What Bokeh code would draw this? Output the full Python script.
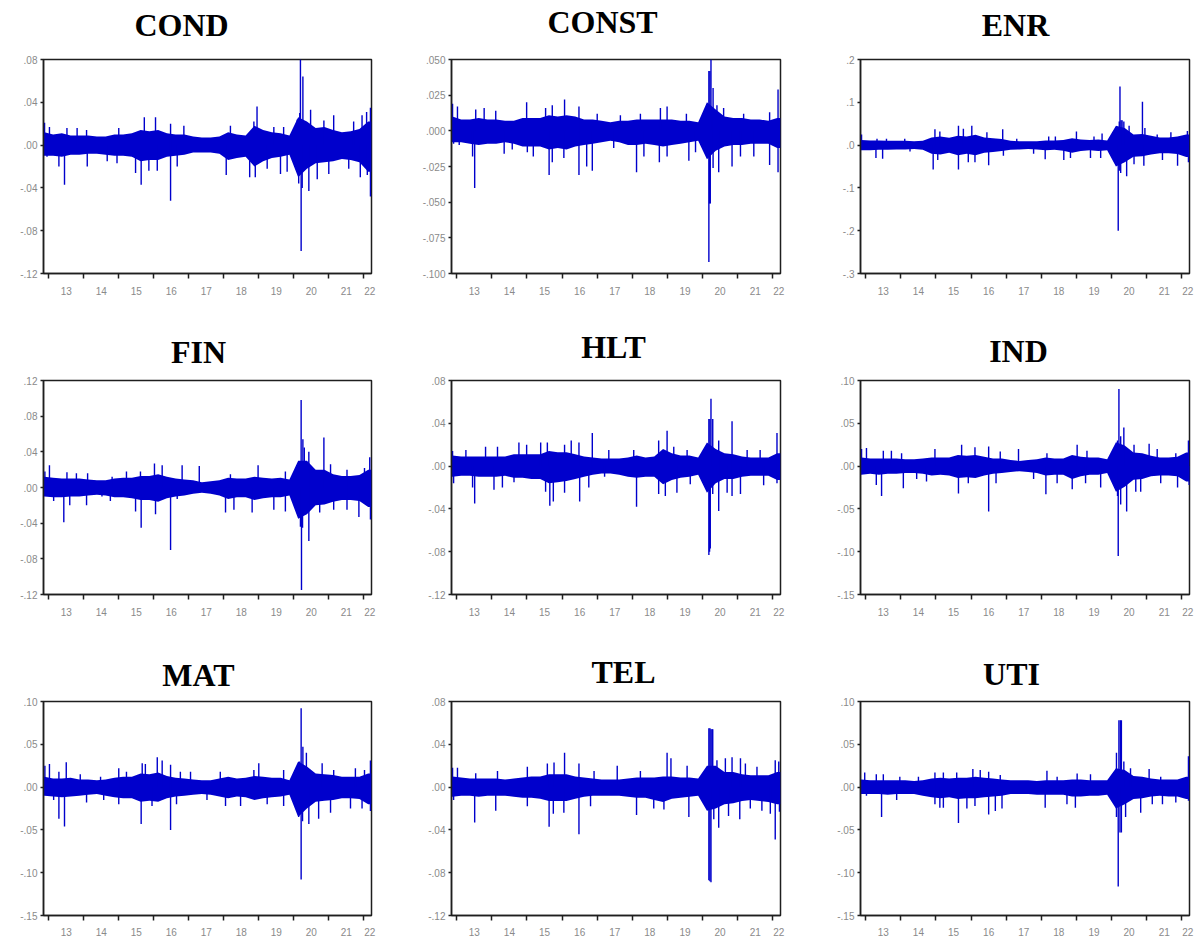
from bokeh.plotting import figure
from bokeh.layouts import row, column
from bokeh.models import Range1d, FixedTicker, CustomJSTickFormatter
from bokeh.core.properties import value
from bokeh.embed import file_html
from bokeh.resources import INLINE

# ---------------- data ----------------
X_START, X_END = 2012.85, 2022.22
quarter_start = [2012.75 + 0.25 * i for i in range(38)]   # 2012Q4 ... 2022Q1
year_ticks = list(range(2013, 2023))
year_label_pos = [y + 0.5 for y in range(2013, 2022)] + [2022.17]

# quarterly core band (dense part of the daily return series), upper / lower
cond_hi = [0.012, 0.010, 0.011, 0.009, 0.009, 0.009, 0.008, 0.008, 0.010, 0.010, 0.011, 0.014, 0.013,
           0.014, 0.011, 0.010, 0.010, 0.008, 0.007, 0.007, 0.008, 0.012, 0.010, 0.009, 0.018,
           0.014, 0.012, 0.011, 0.009, 0.026, 0.022, 0.016, 0.017, 0.014, 0.012, 0.013, 0.015, 0.022]
cond_lo = [-0.010, -0.010, -0.011, -0.009, -0.009, -0.008, -0.008, -0.009, -0.010, -0.010, -0.011, -0.015, -0.014,
           -0.014, -0.011, -0.010, -0.009, -0.007, -0.007, -0.007, -0.008, -0.014, -0.012, -0.011, -0.020,
           -0.015, -0.012, -0.011, -0.009, -0.030, -0.022, -0.017, -0.016, -0.015, -0.013, -0.014, -0.016, -0.025]
const_hi = [0.010, 0.008, 0.008, 0.009, 0.008, 0.008, 0.007, 0.007, 0.009, 0.009, 0.009, 0.011, 0.010,
            0.011, 0.010, 0.008, 0.008, 0.007, 0.006, 0.007, 0.007, 0.008, 0.008, 0.008, 0.008,
            0.008, 0.007, 0.007, 0.006, 0.020, 0.015, 0.010, 0.009, 0.009, 0.008, 0.008, 0.007, 0.009]
const_lo = [-0.008, -0.008, -0.009, -0.010, -0.009, -0.009, -0.008, -0.009, -0.011, -0.011, -0.011, -0.013, -0.012,
            -0.013, -0.011, -0.010, -0.009, -0.008, -0.007, -0.008, -0.010, -0.010, -0.009, -0.010, -0.011,
            -0.010, -0.009, -0.008, -0.007, -0.020, -0.014, -0.011, -0.010, -0.010, -0.009, -0.009, -0.009, -0.012]
enr_hi = [0.012, 0.011, 0.011, 0.010, 0.010, 0.010, 0.009, 0.010, 0.018, 0.020, 0.017, 0.022, 0.020,
          0.024, 0.018, 0.016, 0.014, 0.010, 0.009, 0.009, 0.009, 0.011, 0.011, 0.012, 0.016,
          0.013, 0.012, 0.013, 0.011, 0.045, 0.040, 0.025, 0.026, 0.022, 0.018, 0.018, 0.020, 0.025]
enr_lo = [-0.012, -0.012, -0.011, -0.011, -0.010, -0.010, -0.009, -0.011, -0.020, -0.022, -0.018, -0.024, -0.020,
          -0.024, -0.018, -0.016, -0.014, -0.011, -0.010, -0.009, -0.010, -0.012, -0.011, -0.013, -0.018,
          -0.014, -0.012, -0.014, -0.012, -0.050, -0.040, -0.027, -0.026, -0.022, -0.019, -0.019, -0.021, -0.028]
fin_hi = [0.012, 0.011, 0.010, 0.010, 0.010, 0.009, 0.008, 0.008, 0.010, 0.011, 0.011, 0.013, 0.013,
          0.015, 0.012, 0.010, 0.009, 0.008, 0.006, 0.007, 0.008, 0.011, 0.010, 0.010, 0.012,
          0.011, 0.010, 0.011, 0.009, 0.030, 0.030, 0.020, 0.020, 0.015, 0.013, 0.013, 0.014, 0.020]
fin_lo = [-0.010, -0.011, -0.011, -0.010, -0.010, -0.009, -0.008, -0.009, -0.011, -0.011, -0.012, -0.014, -0.014,
          -0.016, -0.012, -0.010, -0.009, -0.007, -0.006, -0.007, -0.009, -0.013, -0.011, -0.011, -0.014,
          -0.012, -0.011, -0.011, -0.009, -0.035, -0.030, -0.020, -0.019, -0.016, -0.014, -0.014, -0.015, -0.022]
hlt_hi = [0.010, 0.009, 0.009, 0.009, 0.009, 0.009, 0.009, 0.011, 0.011, 0.011, 0.011, 0.014, 0.013,
          0.013, 0.011, 0.009, 0.008, 0.007, 0.007, 0.007, 0.008, 0.010, 0.008, 0.009, 0.016,
          0.012, 0.010, 0.010, 0.008, 0.022, 0.016, 0.012, 0.011, 0.009, 0.008, 0.008, 0.008, 0.012]
hlt_lo = [-0.010, -0.009, -0.009, -0.010, -0.010, -0.010, -0.009, -0.011, -0.011, -0.012, -0.012, -0.016, -0.015,
          -0.014, -0.012, -0.010, -0.008, -0.007, -0.007, -0.008, -0.010, -0.011, -0.010, -0.010, -0.017,
          -0.013, -0.011, -0.010, -0.008, -0.025, -0.016, -0.012, -0.012, -0.010, -0.009, -0.009, -0.009, -0.013]
ind_hi = [0.010, 0.009, 0.009, 0.009, 0.009, 0.008, 0.008, 0.009, 0.010, 0.010, 0.010, 0.013, 0.012,
          0.013, 0.011, 0.009, 0.009, 0.007, 0.006, 0.007, 0.008, 0.010, 0.009, 0.009, 0.013,
          0.011, 0.010, 0.010, 0.008, 0.028, 0.024, 0.016, 0.015, 0.012, 0.010, 0.010, 0.011, 0.016]
ind_lo = [-0.010, -0.009, -0.010, -0.009, -0.009, -0.008, -0.008, -0.009, -0.011, -0.010, -0.011, -0.014, -0.013,
          -0.014, -0.011, -0.009, -0.008, -0.007, -0.006, -0.007, -0.008, -0.011, -0.010, -0.010, -0.015,
          -0.012, -0.010, -0.010, -0.008, -0.030, -0.024, -0.016, -0.015, -0.012, -0.011, -0.011, -0.012, -0.018]
mat_hi = [0.012, 0.010, 0.010, 0.011, 0.009, 0.009, 0.008, 0.009, 0.011, 0.012, 0.012, 0.016, 0.015,
          0.017, 0.013, 0.011, 0.010, 0.009, 0.008, 0.008, 0.010, 0.012, 0.010, 0.011, 0.013,
          0.012, 0.011, 0.011, 0.008, 0.030, 0.024, 0.016, 0.015, 0.014, 0.012, 0.012, 0.012, 0.016]
mat_lo = [-0.010, -0.011, -0.012, -0.011, -0.010, -0.009, -0.008, -0.010, -0.012, -0.013, -0.013, -0.017, -0.016,
          -0.017, -0.013, -0.011, -0.010, -0.009, -0.008, -0.009, -0.011, -0.013, -0.011, -0.012, -0.015,
          -0.013, -0.012, -0.011, -0.009, -0.035, -0.025, -0.017, -0.016, -0.015, -0.013, -0.013, -0.014, -0.020]
tel_hi = [0.010, 0.009, 0.008, 0.008, 0.008, 0.008, 0.007, 0.008, 0.009, 0.010, 0.010, 0.012, 0.012,
          0.012, 0.010, 0.009, 0.008, 0.007, 0.007, 0.007, 0.008, 0.009, 0.009, 0.009, 0.010,
          0.010, 0.009, 0.009, 0.008, 0.020, 0.020, 0.014, 0.014, 0.012, 0.011, 0.011, 0.011, 0.014]
tel_lo = [-0.009, -0.008, -0.008, -0.009, -0.008, -0.008, -0.008, -0.009, -0.010, -0.010, -0.011, -0.013, -0.013,
          -0.013, -0.011, -0.009, -0.008, -0.008, -0.008, -0.008, -0.009, -0.010, -0.010, -0.012, -0.014,
          -0.011, -0.010, -0.009, -0.008, -0.022, -0.020, -0.016, -0.015, -0.013, -0.012, -0.013, -0.014, -0.016]
uti_hi = [0.009, 0.008, 0.008, 0.008, 0.008, 0.008, 0.007, 0.008, 0.010, 0.011, 0.010, 0.011, 0.011,
          0.012, 0.011, 0.010, 0.009, 0.008, 0.008, 0.008, 0.007, 0.008, 0.008, 0.008, 0.009,
          0.009, 0.008, 0.008, 0.008, 0.022, 0.020, 0.013, 0.012, 0.010, 0.009, 0.009, 0.009, 0.012]
uti_lo = [-0.008, -0.008, -0.008, -0.009, -0.008, -0.008, -0.008, -0.010, -0.012, -0.013, -0.012, -0.014, -0.013,
          -0.013, -0.012, -0.011, -0.010, -0.008, -0.008, -0.008, -0.009, -0.009, -0.009, -0.009, -0.011,
          -0.011, -0.010, -0.010, -0.009, -0.025, -0.020, -0.014, -0.013, -0.011, -0.010, -0.011, -0.011, -0.014]

# individual daily spikes (decimal year, return)
cond_spikes = [(2012.88, 0.021), (2013.02, 0.017), (2013.52, 0.016), (2013.81, 0.016), (2014.08, 0.014),
               (2015.00, 0.016), (2015.73, 0.026), (2016.05, 0.026), (2016.48, 0.020), (2016.86, 0.018),
               (2018.19, 0.018), (2018.86, 0.022), (2018.95, 0.036), (2019.43, 0.017), (2019.71, 0.017),
               (2020.10, 0.024), (2020.17, 0.030), (2020.19, 0.080), (2020.26, 0.064), (2020.48, 0.033),
               (2020.86, 0.023), (2021.14, 0.028), (2021.71, 0.022), (2021.95, 0.028), (2022.08, 0.031),
               (2022.19, 0.035),
               (2012.95, -0.011), (2013.29, -0.020), (2013.45, -0.037), (2014.10, -0.020), (2014.67, -0.015),
               (2014.95, -0.017), (2015.48, -0.026), (2015.64, -0.037), (2015.86, -0.024), (2016.10, -0.024),
               (2016.48, -0.052), (2016.67, -0.020), (2018.07, -0.028), (2018.74, -0.030), (2018.90, -0.030),
               (2019.24, -0.022), (2019.62, -0.027), (2019.81, -0.025), (2020.14, -0.036), (2020.21, -0.099),
               (2020.24, -0.040), (2020.43, -0.043), (2020.67, -0.032), (2021.00, -0.027), (2021.57, -0.022),
               (2021.90, -0.030), (2022.10, -0.028), (2022.19, -0.048)]
const_spikes = [(2012.88, 0.019), (2013.02, 0.017), (2013.54, 0.015), (2013.78, 0.016), (2014.11, 0.014),
                (2014.99, 0.020), (2015.53, 0.016), (2015.72, 0.018), (2016.07, 0.022), (2016.48, 0.017),
                (2017.00, 0.012), (2017.66, 0.011), (2018.23, 0.012), (2018.80, 0.016), (2018.99, 0.017),
                (2019.54, 0.012), (2020.18, 0.042), (2020.21, 0.042), (2020.24, 0.050), (2020.30, 0.030),
                (2020.41, 0.018), (2020.60, 0.016), (2021.17, 0.012), (2021.91, 0.013), (2022.15, 0.029),
                (2012.91, -0.009), (2013.07, -0.010), (2013.45, -0.018), (2013.51, -0.040), (2014.35, -0.016),
                (2014.58, -0.013), (2015.01, -0.015), (2015.18, -0.018), (2015.63, -0.031), (2015.72, -0.022),
                (2016.05, -0.019), (2016.48, -0.031), (2016.70, -0.025), (2016.86, -0.028), (2017.47, -0.012),
                (2018.12, -0.029), (2018.33, -0.018), (2018.77, -0.022), (2018.99, -0.018), (2019.61, -0.021),
                (2019.80, -0.015), (2020.08, -0.009), (2020.18, -0.092), (2020.20, -0.051), (2020.22, -0.051),
                (2020.30, -0.026), (2020.46, -0.029), (2020.84, -0.025), (2021.08, -0.018), (2021.46, -0.018),
                (2021.91, -0.024), (2022.15, -0.029)]
enr_spikes = [(2012.88, 0.025), (2013.32, 0.015), (2013.59, 0.015), (2014.11, 0.015), (2014.97, 0.037),
              (2015.11, 0.032), (2015.64, 0.045), (2015.78, 0.038), (2016.02, 0.045), (2016.45, 0.030),
              (2016.90, 0.037), (2017.30, 0.015), (2018.21, 0.020), (2018.40, 0.020), (2019.00, 0.032),
              (2019.50, 0.020), (2019.73, 0.027), (2020.22, 0.055), (2020.24, 0.137), (2020.27, 0.058),
              (2020.30, 0.058), (2020.35, 0.055), (2020.50, 0.045), (2020.88, 0.101), (2020.95, 0.040),
              (2021.30, 0.025), (2021.69, 0.030), (2022.16, 0.033),
              (2013.29, -0.030), (2013.48, -0.032), (2014.26, -0.015), (2014.92, -0.057), (2015.05, -0.035),
              (2015.64, -0.057), (2015.92, -0.040), (2016.11, -0.040), (2016.50, -0.047), (2016.92, -0.025),
              (2017.78, -0.020), (2018.11, -0.033), (2018.64, -0.035), (2018.83, -0.030), (2019.40, -0.030),
              (2019.69, -0.030), (2020.19, -0.200), (2020.22, -0.060), (2020.26, -0.065), (2020.43, -0.073),
              (2020.64, -0.045), (2020.92, -0.048), (2021.45, -0.035), (2021.88, -0.048), (2022.19, -0.040)]
fin_spikes = [(2012.89, 0.018), (2013.02, 0.025), (2013.52, 0.017), (2013.79, 0.016), (2014.11, 0.016),
              (2014.81, 0.012), (2015.22, 0.018), (2015.62, 0.018), (2016.02, 0.027), (2016.24, 0.025),
              (2016.81, 0.025), (2017.30, 0.024), (2018.19, 0.015), (2018.98, 0.025), (2019.76, 0.018),
              (2020.14, 0.025), (2020.21, 0.098), (2020.26, 0.054), (2020.30, 0.045), (2020.43, 0.040),
              (2020.86, 0.056), (2021.05, 0.026), (2021.52, 0.020), (2022.02, 0.022), (2022.17, 0.034),
              (2013.14, -0.015), (2013.43, -0.039), (2013.60, -0.020), (2014.08, -0.020), (2014.52, -0.010),
              (2014.76, -0.015), (2015.48, -0.027), (2015.64, -0.045), (2016.05, -0.030), (2016.48, -0.070),
              (2016.67, -0.013), (2018.05, -0.028), (2018.29, -0.025), (2018.81, -0.028), (2019.43, -0.025),
              (2019.76, -0.027), (2020.19, -0.044), (2020.22, -0.115), (2020.25, -0.045), (2020.43, -0.060),
              (2020.74, -0.028), (2021.14, -0.025), (2021.52, -0.025), (2021.86, -0.033), (2022.19, -0.036)]
hlt_spikes = [(2012.88, 0.014), (2013.26, 0.015), (2013.82, 0.018), (2014.16, 0.018), (2014.77, 0.022),
              (2014.99, 0.020), (2015.39, 0.022), (2015.58, 0.022), (2016.07, 0.020), (2016.26, 0.024),
              (2016.48, 0.022), (2016.86, 0.031), (2017.33, 0.015), (2018.04, 0.015), (2018.75, 0.024),
              (2018.99, 0.033), (2019.18, 0.018), (2019.56, 0.015), (2020.18, 0.044), (2020.21, 0.044),
              (2020.24, 0.063), (2020.29, 0.044), (2020.46, 0.024), (2020.84, 0.042), (2021.27, 0.015),
              (2021.64, 0.015), (2022.12, 0.031),
              (2012.91, -0.016), (2013.45, -0.020), (2013.51, -0.035), (2014.06, -0.022), (2014.30, -0.020),
              (2014.63, -0.015), (2015.53, -0.024), (2015.65, -0.037), (2015.75, -0.033), (2016.07, -0.025),
              (2016.50, -0.033), (2016.76, -0.020), (2017.21, -0.010), (2018.12, -0.038), (2018.75, -0.026),
              (2018.94, -0.028), (2019.27, -0.025), (2019.65, -0.017), (2020.18, -0.083), (2020.20, -0.080),
              (2020.22, -0.077), (2020.29, -0.026), (2020.46, -0.042), (2020.70, -0.025), (2020.84, -0.028),
              (2021.08, -0.026), (2021.74, -0.018), (2022.12, -0.016)]
ind_spikes = [(2012.88, 0.020), (2013.02, 0.021), (2013.50, 0.018), (2013.73, 0.018), (2014.02, 0.015),
              (2014.97, 0.020), (2015.73, 0.025), (2016.11, 0.022), (2016.50, 0.023), (2016.83, 0.017),
              (2017.35, 0.020), (2018.16, 0.015), (2019.02, 0.025), (2019.30, 0.018), (2020.17, 0.030),
              (2020.21, 0.090), (2020.26, 0.035), (2020.35, 0.045), (2020.64, 0.025), (2021.07, 0.026),
              (2021.30, 0.020), (2021.83, 0.015), (2022.19, 0.030),
              (2013.30, -0.022), (2013.45, -0.035), (2014.07, -0.026), (2014.45, -0.015), (2014.73, -0.018),
              (2015.64, -0.032), (2015.92, -0.020), (2016.50, -0.053), (2016.71, -0.020), (2017.78, -0.015),
              (2018.13, -0.033), (2018.45, -0.020), (2018.88, -0.027), (2019.26, -0.020), (2019.69, -0.025),
              (2020.17, -0.035), (2020.19, -0.105), (2020.26, -0.045), (2020.43, -0.053), (2020.69, -0.030),
              (2020.83, -0.030), (2021.40, -0.020), (2021.88, -0.025), (2022.21, -0.022)]
mat_spikes = [(2012.89, 0.025), (2013.02, 0.027), (2013.29, 0.018), (2013.50, 0.029), (2013.90, 0.015),
              (2014.48, 0.012), (2015.00, 0.022), (2015.22, 0.018), (2015.67, 0.028), (2015.76, 0.027),
              (2016.10, 0.035), (2016.24, 0.031), (2016.48, 0.026), (2016.76, 0.018), (2017.05, 0.018),
              (2017.90, 0.018), (2018.86, 0.020), (2019.00, 0.028), (2019.71, 0.020), (2020.17, 0.030),
              (2020.21, 0.092), (2020.26, 0.047), (2020.36, 0.040), (2020.81, 0.028), (2021.14, 0.020),
              (2021.76, 0.022), (2022.02, 0.020), (2022.19, 0.031),
              (2013.14, -0.015), (2013.29, -0.037), (2013.45, -0.046), (2014.08, -0.018), (2014.57, -0.015),
              (2015.00, -0.020), (2015.64, -0.043), (2015.95, -0.022), (2016.48, -0.050), (2016.65, -0.020),
              (2017.52, -0.015), (2018.05, -0.022), (2018.48, -0.022), (2019.24, -0.020), (2019.71, -0.022),
              (2020.14, -0.035), (2020.21, -0.108), (2020.25, -0.040), (2020.43, -0.043), (2020.71, -0.037),
              (2021.05, -0.030), (2021.62, -0.025), (2021.95, -0.025), (2022.19, -0.028)]
tel_spikes = [(2012.88, 0.018), (2013.02, 0.018), (2013.54, 0.013), (2014.16, 0.015), (2015.01, 0.019),
              (2015.58, 0.022), (2015.77, 0.023), (2016.07, 0.032), (2016.48, 0.022), (2016.91, 0.015),
              (2017.57, 0.020), (2018.23, 0.015), (2018.99, 0.032), (2019.10, 0.027), (2019.56, 0.020),
              (2020.18, 0.055), (2020.21, 0.055), (2020.24, 0.054), (2020.27, 0.054), (2020.29, 0.054),
              (2020.41, 0.025), (2020.65, 0.027), (2020.84, 0.028), (2021.08, 0.027), (2021.22, 0.022),
              (2021.55, 0.019), (2022.07, 0.025), (2022.17, 0.024),
              (2012.91, -0.012), (2013.51, -0.033), (2014.11, -0.022), (2015.01, -0.018), (2015.63, -0.037),
              (2015.75, -0.025), (2016.05, -0.024), (2016.48, -0.044), (2016.81, -0.018), (2018.12, -0.026),
              (2018.61, -0.020), (2018.90, -0.021), (2019.61, -0.028), (2020.18, -0.087), (2020.21, -0.088),
              (2020.24, -0.089), (2020.32, -0.030), (2020.46, -0.038), (2020.74, -0.027), (2021.06, -0.030),
              (2021.36, -0.020), (2021.69, -0.022), (2021.93, -0.025), (2022.07, -0.049), (2022.19, -0.023)]
uti_spikes = [(2012.97, 0.017), (2013.30, 0.015), (2013.50, 0.015), (2013.97, 0.012), (2014.50, 0.012),
              (2014.97, 0.017), (2015.21, 0.017), (2015.59, 0.017), (2016.05, 0.021), (2016.26, 0.020),
              (2016.50, 0.018), (2016.83, 0.014), (2018.16, 0.019), (2018.45, 0.012), (2019.02, 0.016),
              (2019.40, 0.015), (2020.14, 0.040), (2020.21, 0.078), (2020.25, 0.078), (2020.28, 0.078),
              (2020.35, 0.030), (2020.54, 0.022), (2021.07, 0.021), (2021.40, 0.012), (2022.19, 0.036),
              (2013.02, -0.010), (2013.45, -0.035), (2013.88, -0.015), (2014.97, -0.020), (2015.11, -0.024),
              (2015.21, -0.024), (2015.64, -0.042), (2015.88, -0.025), (2016.11, -0.022), (2016.50, -0.032),
              (2016.69, -0.028), (2016.88, -0.025), (2018.11, -0.024), (2018.73, -0.020), (2018.97, -0.024),
              (2020.14, -0.035), (2020.19, -0.116), (2020.24, -0.053), (2020.28, -0.053), (2020.40, -0.035),
              (2020.83, -0.030), (2021.16, -0.020), (2021.45, -0.020), (2021.83, -0.018), (2022.19, -0.016)]

ticks_04 = [-0.12, -0.08, -0.04, 0.0, 0.04, 0.08]
ticks_fin = [-0.12, -0.08, -0.04, 0.0, 0.04, 0.08, 0.12]
ticks_const = [-0.100, -0.075, -0.050, -0.025, 0.0, 0.025, 0.050]
ticks_enr = [-0.3, -0.2, -0.1, 0.0, 0.1, 0.2]
ticks_05 = [-0.15, -0.10, -0.05, 0.0, 0.05, 0.10]

names = ["COND", "CONST", "ENR", "FIN", "HLT", "IND", "MAT", "TEL", "UTI"]
his = [cond_hi, const_hi, enr_hi, fin_hi, hlt_hi, ind_hi, mat_hi, tel_hi, uti_hi]
los = [cond_lo, const_lo, enr_lo, fin_lo, hlt_lo, ind_lo, mat_lo, tel_lo, uti_lo]
spikes = [cond_spikes, const_spikes, enr_spikes, fin_spikes, hlt_spikes, ind_spikes, mat_spikes, tel_spikes, uti_spikes]
yticks = [ticks_04, ticks_const, ticks_enr, ticks_fin, ticks_04, ticks_05, ticks_05, ticks_04, ticks_05]
digits = [2, 3, 1, 2, 2, 2, 2, 2, 2]

# ---------------- styling / layout ----------------
BLUE = "#0000cc"
FRAME = "#1e1e1e"
LABEL = "#8a8a8a"
TITLE_PX = 32
# page position of each title: (x centre, baseline y)
title_page = [(181, 35), (602, 32), (1015, 35), (198, 362), (613, 357), (1018, 361), (198, 685), (623, 682), (1011, 684)]
col_geom = [(0, 43, 328, 39), (410, 41, 329, 36), (816, 44, 329, 10)]   # page x, left border, frame w, right border
row_geom = [(0, 52, 214, 26, 8), (299, 74, 214, 26, 8), (620, 74, 214, 24, 7)]  # page y, title h, frame h, bottom, standoff
TOP_GAP = 7


def make_title(i):
    cx, L, FW, R = col_geom[i % 3]
    ry, TH, FH, B, stand = row_geom[i // 3]
    W = L + FW + R
    t = figure(frame_width=W, frame_height=TH, min_border_left=0, min_border_right=0,
               min_border_top=0, min_border_bottom=0, x_range=Range1d(0, W), y_range=Range1d(0, TH),
               x_axis_location=None, y_axis_location=None, toolbar_location=None, tools="",
               output_backend="svg", outline_line_color=None)
    t.xgrid.visible = False
    t.ygrid.visible = False
    px, py = title_page[i]
    mid = py - 0.33 * TITLE_PX          # vertical middle of the capitals
    t.text(x=[px - cx], y=[ry + TH - mid], text=[names[i]], text_font=value("Liberation Serif"),
           text_font_size=f"{TITLE_PX}px", text_font_style="bold", text_color="black",
           text_align="center", text_baseline="middle")
    return t


def make_panel(i):
    cx, L, FW, R = col_geom[i % 3]
    ry, TH, FH, B, stand = row_geom[i // 3]
    tk = yticks[i]
    p = figure(frame_width=FW, frame_height=FH, min_border_left=L, min_border_right=R,
               min_border_top=TOP_GAP, min_border_bottom=B,
               x_range=Range1d(X_START, X_END), y_range=Range1d(tk[0], tk[-1]),
               toolbar_location=None, tools="", output_backend="svg",
               background_fill_color="white", border_fill_color="white")
    p.xgrid.visible = False
    p.ygrid.visible = False
    p.outline_line_color = FRAME
    p.outline_line_width = 1.5
    p.outline_line_alpha = 1.0

    hi, lo = his[i], los[i]
    n = min(len(hi), len(lo), len(quarter_start))
    mids = [q + 0.125 for q in quarter_start[:n]]
    xs = [X_START] + mids + [X_END]
    y_hi = [hi[0]] + list(hi[:n]) + [hi[n - 1]]
    y_lo = [lo[0]] + list(lo[:n]) + [lo[n - 1]]
    p.varea(x=xs, y1=y_lo, y2=y_hi, fill_color=BLUE, fill_alpha=1.0)

    st = [t for t, v in spikes[i]]
    sv = [v for t, v in spikes[i]]
    p.segment(x0=st, y0=[0.0] * len(st), x1=st, y1=sv, line_color=BLUE, line_width=1.4)

    xa = p.xaxis[0]
    xa.ticker = FixedTicker(ticks=year_label_pos, minor_ticks=year_ticks)
    xa.formatter = CustomJSTickFormatter(code="return String(Math.floor(tick + 1e-6) % 100);")
    xa.major_tick_out = 0
    xa.major_tick_in = 0
    xa.minor_tick_out = 5
    xa.minor_tick_in = 0
    xa.minor_tick_line_color = FRAME
    xa.minor_tick_line_width = 1.5
    xa.axis_line_color = FRAME
    xa.axis_line_width = 1.5
    xa.major_label_text_font = "Liberation Sans"
    xa.major_label_text_font_size = "10px"
    xa.major_label_text_color = LABEL
    xa.major_label_standoff = stand

    ya = p.yaxis[0]
    ya.ticker = FixedTicker(ticks=tk, minor_ticks=[])
    ya.formatter = CustomJSTickFormatter(args=dict(d=digits[i]), code="""
        const s = Math.abs(tick).toFixed(d).replace(/^0/, "");
        return (tick < -1e-9 ? "-" : "") + s;
    """)
    ya.major_tick_out = 3
    ya.major_tick_in = 0
    ya.minor_tick_out = 0
    ya.minor_tick_in = 0
    ya.major_tick_line_color = FRAME
    ya.major_tick_line_width = 1.5
    ya.axis_line_color = FRAME
    ya.axis_line_width = 1.5
    ya.major_label_text_font = "Liberation Sans"
    ya.major_label_text_font_size = "10px"
    ya.major_label_text_color = LABEL
    ya.major_label_standoff = 3
    return p


rows = []
for r in range(3):
    rows.append(row([make_title(3 * r + c) for c in range(3)], spacing=0))
    rows.append(row([make_panel(3 * r + c) for c in range(3)], spacing=0))
layout = column(rows, spacing=0)

open("out.html", "w").write(file_html(layout, INLINE))
